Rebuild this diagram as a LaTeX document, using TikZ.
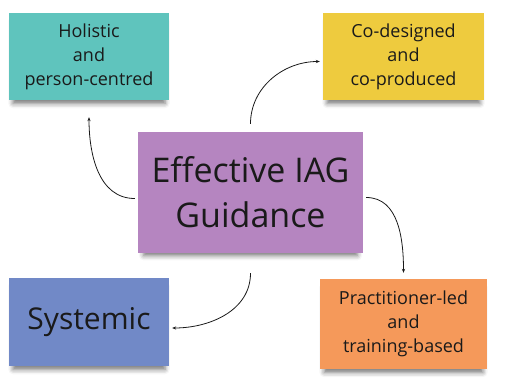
\documentclass[tikz,border=0pt]{standalone}
\usepackage{fontspec}
\setmainfont{Open Sans}
\usetikzlibrary{arrows.meta,positioning,shadows.blur}
\definecolor{Ink}{HTML}{1A1A1A}
\definecolor{Teal}{HTML}{5FC4BD}
\definecolor{Sun}{HTML}{EECB3E}
\definecolor{Lilac}{HTML}{B585C0}
\definecolor{Cornflower}{HTML}{7189C7}
\definecolor{Tangerine}{HTML}{F5995A}
\tikzset{
  every node/.append style={text=Ink},
  note/.style={inner sep=0pt, align=center, minimum width=160pt, minimum height=87pt,
               font=\fontsize{18}{24}\selectfont,
               blur shadow={shadow xshift=0pt, shadow yshift=-6pt, shadow blur radius=5pt,
                            shadow opacity=55, shadow scale=0.95}},
  hubnote/.style={note, minimum width=225pt, minimum height=121pt,
                  font=\fontsize{34}{45}\selectfont},
  arrow/.style={-{Stealth[length=4pt,width=3.2pt]}, line width=0.8pt, draw=Ink},
}
\begin{document}
\begin{tikzpicture}[x=1pt,y=1pt]
  \useasboundingbox (0,0) rectangle (505,383);
  \node[hubnote, fill=Lilac] (hub) at (250.5,190.5) {Effective IAG\\Guidance};
  \node[note, fill=Teal] (holistic) at (89,326.5) {Holistic\\and\\person-centred};
  \node[note, fill=Sun, minimum width=161pt] (codesign) at (403.5,326.5) {Co-designed\\and\\co-produced};
  \node[note, fill=Cornflower, minimum height=88pt, font=\fontsize{30}{36}\selectfont] (systemic) at (89,61) {Systemic};
  \node[note, fill=Tangerine, minimum width=167pt, minimum height=90pt] (practice) at (403.5,59) {Practitioner-led\\and\\training-based};
  \draw[arrow] ([xshift=-3pt,yshift=-6pt]hub.west) to[out=180,in=-90] ([yshift=-17pt]holistic.south);
  \draw[arrow] ([yshift=8pt]hub.north) to[out=90,in=180] ([xshift=-3pt,yshift=-5pt]codesign.west);
  \draw[arrow] ([xshift=3pt,yshift=-5pt]hub.east) to[out=0,in=90] ([yshift=6pt]practice.north);
  \draw[arrow] ([yshift=-20pt]hub.south) to[out=-90,in=0] ([xshift=3pt,yshift=-6pt]systemic.east);
\end{tikzpicture}
\end{document}
